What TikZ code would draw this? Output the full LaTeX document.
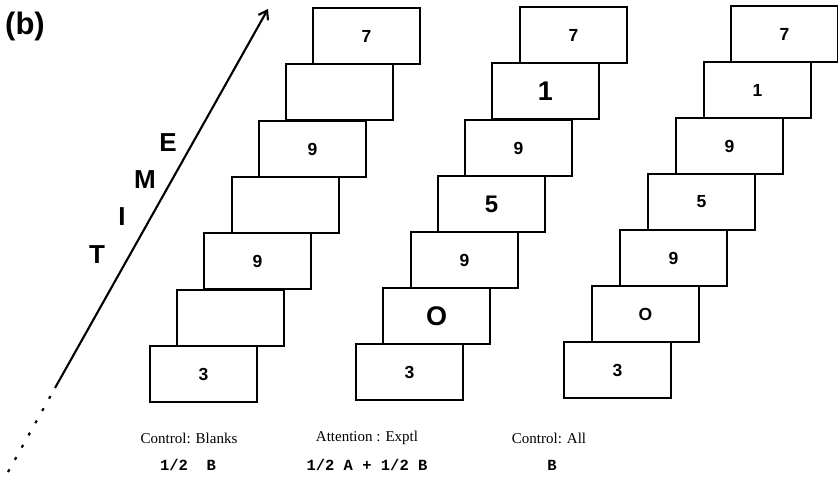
\documentclass[tikz,border=0pt]{standalone}
\usepackage{fontspec}
\setmainfont{Liberation Serif}
\newfontfamily\hvf{Liberation Sans}
\newfontfamily\monof{Liberation Mono}
\usetikzlibrary{arrows.meta}
\begin{document}
\begin{tikzpicture}[x=1pt,y=-1pt,
  frame/.style={draw, line width=2.7pt, fill=white, minimum width=107pt,
    minimum height=56pt, anchor=south west, inner sep=0pt, outer sep=0pt,
    font=\hvf\bfseries\fontsize{17.5}{17.5}\selectfont},
  sm/.style={},
  bigA/.style={font=\hvf\bfseries\fontsize{27}{27}\selectfont},
  bigB/.style={font=\hvf\bfseries\fontsize{24}{24}\selectfont},
  timeletter/.style={font=\hvf\bfseries\fontsize{26}{26}\selectfont, inner sep=0pt},
  captxt/.style={font=\fontsize{15}{15}\selectfont, inner sep=0pt},
  capmono/.style={font=\monof\bfseries\fontsize{15.5}{15.5}\selectfont, inner sep=0pt},
  timearrow/.style={line width=2.1pt, -{Straight Barb[length=8pt,width=11pt,line width=2.1pt]}},
  dotline/.style={line width=2.2pt, dash pattern=on 3pt off 11pt}
]
\useasboundingbox (0,0) rectangle (838,484);

% label (b)
\node[font=\hvf\bfseries\fontsize{31}{31}\selectfont, inner sep=0pt] (lbl) at (25,26) {(b)};

% time arrow
\coordinate (tfar) at (8,472);
\coordinate (tstart) at (55,388);
\coordinate (ttip) at (268,9);
\draw[dotline] (tfar) -- (tstart);
\draw[timearrow] (tstart) -- (ttip);
\node[timeletter] (lT) at (97,255) {T};
\node[timeletter] (lI) at (122,217) {I};
\node[timeletter] (lM) at (145,180) {M};
\node[timeletter] (lE) at (168,143) {E};

% stack 1: Control: Blanks
\foreach \i/\x/\y/\t/\s in {0/150/402/3/sm,1/177/346//sm,2/204/289/9/sm,3/232/233//sm,
    4/259/177/9/sm,5/286/120//sm,6/313/64/7/sm}
  \node[frame,\s] (a\i) at (\x,\y) {\t};

% stack 2: Attention : Exptl
\foreach \i/\x/\y/\t/\s in {0/356/400/3/sm,1/383/344/O/bigA,2/411/288/9/sm,3/438/232/5/bigB,
    4/465/176/9/sm,5/492/119/1/bigA,6/520/63/7/sm}
  \node[frame,\s] (b\i) at (\x,\y) {\t};

% stack 3: Control: All
\foreach \i/\x/\y/\t/\s in {0/564/398/3/sm,1/592/342/O/sm,2/620/286/9/sm,3/648/230/5/sm,
    4/676/174/9/sm,5/704/118/1/sm,6/731/62/7/sm}
  \node[frame,\s] (c\i) at (\x,\y) {\t};

% captions
\node[captxt] (cap1) at (189,438) {Control: Blanks};
\node[capmono] (frac1) at (188,465) {1/2\ \ B};
\node[captxt] (cap2) at (367,438) {Attention : Exptl};
\node[capmono] (frac2) at (367,465) {1/2 A + 1/2 B};
\node[captxt] (cap3) at (549,438) {Control: All};
\node[capmono] (frac3) at (552,465) {B};
\end{tikzpicture}
\end{document}
